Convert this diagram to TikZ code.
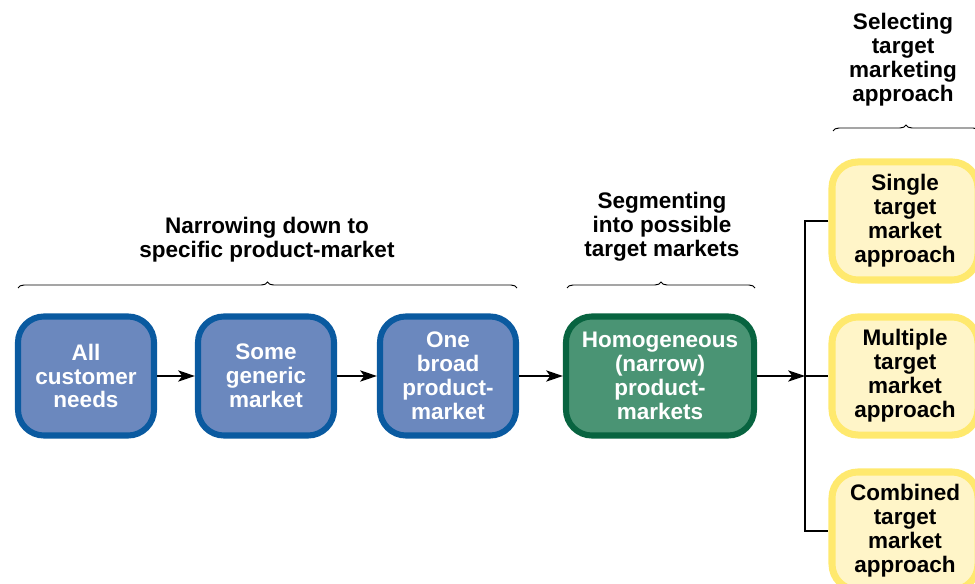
\documentclass[tikz,border=0pt]{standalone}
\usepackage{fontspec}
\setmainfont{Liberation Sans}
\usepackage{tikz}
\usetikzlibrary{positioning}
\usetikzlibrary{calc}
\usetikzlibrary{arrows.meta}
\usetikzlibrary{decorations.pathreplacing}

\definecolor{boxblue}{HTML}{6B88BE}
\definecolor{rimblue}{HTML}{0A5AA0}
\definecolor{boxgreen}{HTML}{4A9474}
\definecolor{rimgreen}{HTML}{086440}
\definecolor{boxyellow}{HTML}{FFF5C8}
\definecolor{rimyellow}{HTML}{FFE96E}

\begin{document}
\begin{tikzpicture}[
    x=0.025cm, y=-0.025cm,
    market box/.style={
        rounded corners=0.65cm,
        line width=4.3pt,
        minimum width=3.4cm,
        minimum height=2.975cm,
        align=center,
        font=\fontsize{16}{17}\selectfont\bfseries
    },
    blue box/.style={market box, draw=rimblue, fill=boxblue, text=white},
    green box/.style={market box, draw=rimgreen, fill=boxgreen, text=white,
        minimum width=4.7cm},
    yellow box/.style={market box, draw=rimyellow, fill=boxyellow, text=black,
        line width=5pt, minimum width=3.65cm, minimum height=2.95cm},
    flow arrow/.style={
        -{Stealth[length=12pt,width=8pt,inset=3pt]},
        line width=1pt
    },
    link/.style={line width=1pt},
    group brace/.style={
        decorate,
        decoration={brace, amplitude=0.15cm},
        line width=0.7pt
    },
    heading/.style={align=center, font=\fontsize{16}{17}\selectfont\bfseries}
  ]

  \useasboundingbox (0,0) rectangle (975,584);
  \clip (0,0) rectangle (975,584);

  % first stage
  \node[blue box] (allneeds) at (86, 376) {All\\customer\\needs};
  \node[blue box] (generic) at (266, 376) {Some\\generic\\market};
  \node[blue box] (broad) at (448, 376) {One\\broad\\product-\\market};

  \node[green box] (homog) at (660, 376) {Homogeneous\\(narrow)\\product-\\markets};

  \node[yellow box] (single) at (905, 221) {Single\\target\\market\\approach};
  \node[yellow box] (multiple) at (905, 376) {Multiple\\target\\market\\approach};
  \node[yellow box] (combined) at (905, 531) {Combined\\target\\market\\approach};

  \coordinate (split) at (805, 376);

  \draw[flow arrow] (allneeds) -- (generic);
  \draw[flow arrow] (generic) -- (broad);
  \draw[flow arrow] (broad) -- (homog);
  \draw[flow arrow] (homog) -- (split);

  \draw[link] (single.west) -- (single.west -| split) -- (combined.west -| split) -- (combined.west);
  \draw[link] (split) -- (multiple.west);

  % braces and headings
  \coordinate (narrow_l) at (18, 288);
  \coordinate (narrow_r) at (517, 288);
  \coordinate (segment_l) at (567, 288);
  \coordinate (segment_r) at (755, 288);
  \coordinate (select_l) at (833, 131);
  \coordinate (select_r) at (979, 131);

  \draw[group brace] (narrow_l) -- (narrow_r);
  \draw[group brace] (segment_l) -- (segment_r);
  \draw[group brace] (select_l) -- (select_r);

  \node[heading] (narrowhead) at (267, 240) {Narrowing down to\\specific product-market};
  \node[heading] (segmenthead) at (662, 227) {Segmenting\\into possible\\target markets};
  \node[heading] (selecthead) at (903, 60) {Selecting\\target\\marketing\\approach};

\end{tikzpicture}
\end{document}
